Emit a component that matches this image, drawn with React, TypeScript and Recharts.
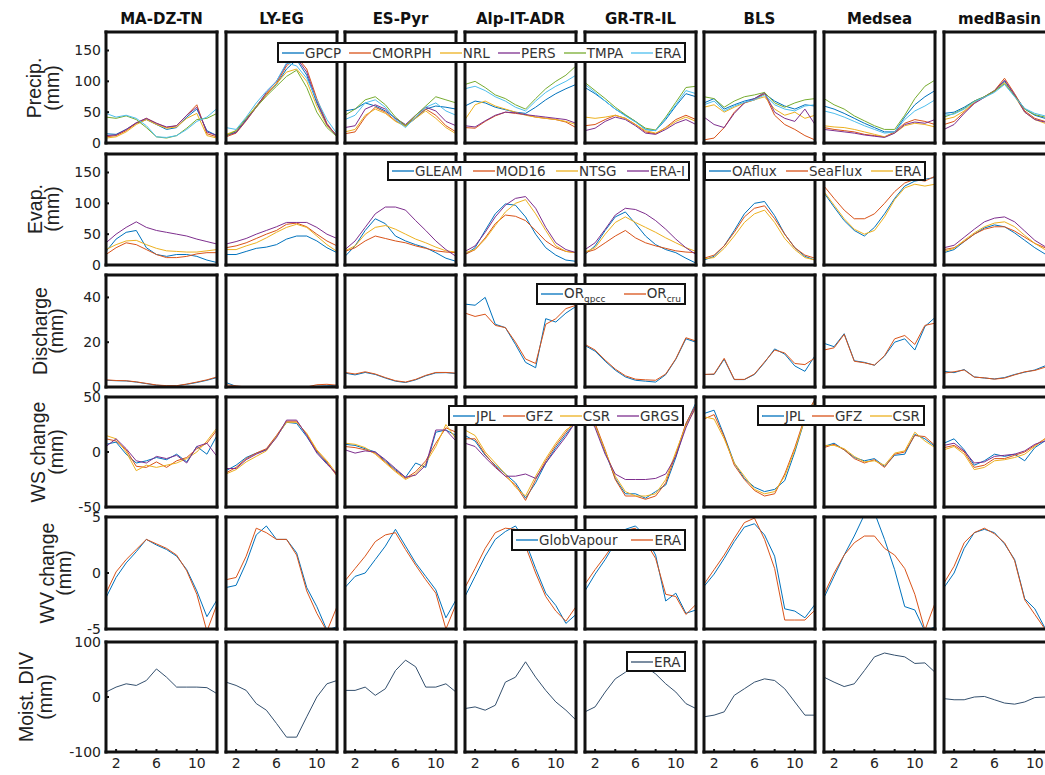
import React from 'react';
import { LineChart, Line, XAxis, YAxis } from 'recharts';

const months = [1, 2, 3, 4, 5, 6, 7, 8, 9, 10, 11, 12];
const regions = ['MA-DZ-TN', 'LY-EG', 'ES-Pyr', 'Alp-IT-ADR', 'GR-TR-IL', 'BLS', 'Medsea', 'medBasin'];
const xTicks = [2, 4, 6, 8, 10];
const xLabels = [2, 6, 10];

const precipNames = ['GPCP', 'CMORPH', 'NRL', 'PERS', 'TMPA', 'ERA'];
const evapLandNames = ['GLEAM', 'MOD16', 'NTSG', 'ERA-I'];
const evapSeaNames = ['OAflux', 'SeaFlux', 'ERA'];
const dischargeNames = ['OR', 'OR'];
const dischargeSubs = ['gpcc', 'cru'];
const wsLandNames = ['JPL', 'GFZ', 'CSR', 'GRGS'];
const wsSeaNames = ['JPL', 'GFZ', 'CSR'];
const wvNames = ['GlobVapour', 'ERA'];
const divNames = ['ERA'];

// region -> series -> month
const precip = [
  [[15, 14, 22, 32, 38, 30, 22, 25, 42, 55, 20, 12], [10, 12, 20, 32, 40, 32, 25, 28, 45, 62, 15, 10], [8, 10, 18, 30, 38, 30, 24, 26, 40, 48, 12, 8], [12, 13, 22, 33, 40, 32, 26, 28, 45, 58, 18, 12], [42, 40, 44, 38, 25, 10, 8, 12, 24, 38, 40, 48], [48, 42, 45, 40, 28, 10, 9, 12, 22, 35, 42, 56]],
  [[12, 18, 38, 60, 80, 95, 120, 135, 110, 65, 30, 12], [10, 16, 36, 58, 78, 97, 125, 140, 120, 72, 32, 10], [14, 20, 40, 60, 80, 96, 115, 120, 100, 60, 28, 12], [12, 17, 37, 58, 82, 100, 128, 138, 115, 68, 30, 11], [12, 20, 40, 58, 76, 92, 108, 118, 90, 50, 25, 10], [25, 22, 42, 65, 84, 100, 130, 125, 105, 70, 38, 15]],
  [[52, 55, 65, 60, 52, 40, 28, 40, 55, 60, 58, 55], [15, 18, 42, 58, 50, 36, 28, 42, 55, 45, 28, 18], [18, 22, 45, 55, 48, 35, 27, 40, 52, 40, 25, 15], [25, 28, 55, 62, 55, 40, 30, 45, 58, 52, 35, 28], [45, 55, 70, 75, 62, 42, 28, 45, 60, 75, 70, 65], [38, 45, 65, 70, 58, 38, 25, 42, 58, 65, 52, 45]],
  [[60, 68, 65, 58, 54, 50, 48, 58, 70, 80, 88, 95], [25, 24, 35, 44, 50, 48, 46, 42, 40, 38, 34, 25], [38, 62, 68, 60, 55, 50, 45, 42, 40, 38, 35, 30], [28, 26, 36, 45, 50, 49, 46, 44, 42, 40, 38, 32], [95, 100, 90, 78, 72, 62, 55, 72, 88, 100, 110, 125], [88, 92, 85, 75, 68, 58, 52, 68, 82, 92, 100, 110]],
  [[90, 80, 68, 55, 45, 35, 22, 20, 38, 60, 80, 75], [28, 30, 38, 45, 40, 30, 18, 15, 25, 38, 45, 38], [42, 40, 42, 45, 40, 30, 20, 16, 24, 35, 42, 35], [20, 24, 35, 42, 38, 28, 16, 14, 22, 32, 38, 30], [98, 85, 72, 58, 46, 35, 24, 21, 42, 66, 90, 92], [95, 82, 68, 55, 44, 34, 22, 20, 40, 62, 85, 80]],
  [[65, 72, 55, 62, 68, 72, 80, 68, 60, 55, 62, 60], [5, 8, 25, 50, 65, 70, 80, 45, 30, 22, 12, 5], [58, 62, 50, 58, 65, 70, 75, 55, 45, 50, 40, 45], [42, 30, 25, 48, 65, 72, 82, 50, 40, 35, 55, 30], [75, 72, 58, 68, 75, 78, 82, 65, 58, 65, 70, 72], [62, 68, 52, 60, 66, 70, 78, 62, 55, 52, 60, 62]],
  [[60, 55, 48, 40, 32, 25, 18, 18, 42, 62, 75, 85], [25, 22, 20, 18, 14, 12, 10, 18, 32, 38, 35, 30], [28, 26, 25, 22, 18, 14, 10, 16, 28, 32, 30, 26], [22, 20, 18, 16, 13, 11, 9, 16, 30, 34, 32, 38], [72, 62, 55, 44, 36, 28, 22, 22, 45, 72, 92, 102], [52, 48, 42, 35, 28, 22, 16, 18, 38, 52, 60, 70]],
  [[48, 50, 58, 68, 75, 85, 100, 78, 55, 45, 40, 38], [30, 35, 50, 65, 75, 85, 105, 80, 52, 40, 35, 32], [38, 42, 52, 66, 74, 84, 98, 76, 50, 38, 32, 30], [22, 30, 48, 64, 74, 84, 102, 78, 50, 38, 34, 30], [42, 48, 56, 68, 75, 84, 96, 76, 55, 46, 42, 40], [45, 47, 55, 67, 74, 82, 95, 75, 56, 48, 44, 42]],
];

const evap = [
  [[22, 42, 53, 56, 28, 17, 14, 17, 17, 14, 8, 4], [17, 28, 36, 33, 25, 17, 12, 12, 14, 18, 20, 20], [25, 33, 39, 40, 33, 27, 23, 22, 21, 21, 23, 25], [36, 50, 61, 70, 61, 56, 53, 50, 47, 42, 38, 34]],
  [[17, 17, 22, 27, 29, 33, 42, 47, 47, 39, 28, 20], [28, 31, 36, 43, 50, 56, 66, 68, 62, 50, 39, 31], [25, 25, 31, 36, 44, 53, 61, 66, 61, 47, 33, 22], [34, 38, 43, 50, 56, 62, 69, 69, 69, 61, 50, 43]],
  [[14, 31, 56, 75, 67, 47, 39, 33, 28, 20, 11, 6], [22, 28, 39, 47, 43, 39, 36, 31, 27, 23, 21, 20], [23, 31, 50, 61, 64, 58, 50, 42, 36, 29, 23, 21], [25, 39, 61, 83, 94, 94, 89, 72, 56, 39, 25, 14]],
  [[17, 28, 56, 83, 99, 97, 78, 50, 28, 16, 8, 6], [17, 25, 44, 67, 81, 79, 72, 56, 39, 28, 22, 20], [20, 25, 42, 64, 86, 100, 106, 83, 56, 31, 22, 20], [22, 31, 53, 78, 97, 108, 111, 92, 61, 36, 25, 20]],
  [[17, 31, 56, 78, 86, 67, 47, 33, 25, 20, 11, 3], [20, 25, 36, 47, 56, 44, 36, 31, 27, 23, 21, 20], [21, 28, 50, 69, 78, 69, 61, 53, 44, 36, 28, 22], [25, 36, 58, 81, 92, 90, 83, 72, 58, 42, 28, 17]],
  [[8, 14, 31, 56, 83, 100, 103, 80, 50, 28, 14, 8], [11, 16, 31, 53, 78, 92, 96, 75, 50, 28, 16, 11], [10, 12, 27, 47, 69, 83, 89, 69, 43, 25, 12, 8]],
  [[117, 94, 72, 56, 47, 61, 83, 108, 128, 136, 139, 142], [128, 108, 89, 75, 75, 83, 100, 119, 133, 139, 136, 144], [119, 97, 75, 58, 50, 56, 78, 106, 125, 131, 128, 131]],
  [[20, 25, 38, 50, 60, 65, 62, 52, 40, 28, 18, 12], [25, 28, 38, 50, 58, 62, 62, 55, 45, 35, 28, 22], [22, 27, 40, 52, 62, 68, 70, 62, 48, 35, 25, 20], [28, 32, 45, 58, 70, 76, 78, 70, 55, 40, 30, 24]],
];

const discharge = [
  [[3, 2.8, 2.7, 2.2, 1.5, 0.8, 0.5, 0.5, 1.2, 2, 3, 4.2], [3.2, 2.9, 2.8, 2.3, 1.6, 0.9, 0.6, 0.6, 1.3, 2.2, 3.2, 4.5]],
  [[2, 0.3, 0, 0, 0, 0, 0, 0, 0, 0.3, 0.5, 0.8], [1, 0.5, 0, 0, 0, 0, 0, 0, 0, 1, 1.2, 0.8]],
  [[6.2, 5.4, 6.5, 5.6, 4, 2.6, 2, 3.2, 5, 6.3, 6.4, 6], [6.5, 5.8, 6.8, 5.8, 4.2, 2.8, 2.2, 3.4, 5.2, 6.5, 6.5, 6.2]],
  [[37, 36.5, 40, 28, 26.5, 19, 11, 8.6, 30.5, 29, 33, 36], [33, 31.5, 32.5, 27.5, 26.5, 20, 12.5, 10.5, 28, 30.5, 35, 36.5]],
  [[18.5, 16, 11.5, 7.5, 4.5, 3, 2.6, 2.2, 5.5, 12.4, 21.5, 20], [19, 16.5, 12, 8, 5, 3.5, 3.2, 3, 5.8, 12.6, 22, 20.5]],
  [[5.6, 5.6, 12.4, 3.3, 3.3, 5.6, 10.9, 17, 14.7, 9.4, 7, 14], [5.6, 5.8, 12.8, 3.4, 3.4, 5.8, 11.2, 16.5, 15.2, 10.5, 10, 13]],
  [[19.5, 18, 23.8, 11.7, 11, 9.7, 13.8, 20, 21.5, 16.5, 27, 31], [16.5, 17.5, 23.5, 11.5, 10.8, 9.8, 14, 21.5, 23, 19, 27.5, 28.5]],
  [[7, 6.4, 7.8, 4.5, 4, 3.6, 4.2, 5.6, 6.6, 7.6, 9.4, 10], [6.2, 6.8, 7.6, 4.4, 4.1, 3.5, 4, 5.4, 6.8, 7.4, 8.8, 9.6]],
];

const wsChange = [
  [[7, 9, -2, -10, -8, -5, -7, -2, -9, 5, -2, 15], [12, 10, 2, -13, -14, -9, -14, -8, -5, 3, 8, 20], [15, 12, 0, -17, -12, -14, -12, -10, -6, 0, 10, 22], [5, 12, 3, -8, -10, -4, -6, -3, -10, 5, 8, -4]],
  [[-17, -12, -5, -1, 2, 14, 27, 26, 14, 0, -10, -21], [-19, -14, -6, -1, 3, 15, 28, 28, 16, 1, -9, -22], [-20, -16, -9, -4, 1, 14, 27, 27, 17, 2, -8, -20], [-15, -15, -7, -2, 2, 13, 29, 29, 15, -1, -11, -20]],
  [[7, 6, 3, 0, -8, -16, -23, -10, -14, 18, 20, 15], [5, 4, 2, -1, -9, -17, -24, -18, -8, 8, 22, 18], [8, 7, 4, -2, -10, -18, -25, -20, -10, 5, 25, 12], [2, -1, 1, 0, -7, -15, -23, -21, -12, 20, 20, 10]],
  [[15, 10, -3, -12, -20, -28, -42, -28, -10, 4, 16, 28], [12, 12, -2, -13, -22, -30, -44, -25, -8, 6, 18, 30], [20, 15, 0, -10, -20, -32, -40, -22, -6, 8, 20, 26], [8, 5, -5, -14, -22, -22, -20, -24, -10, 2, 14, 28]],
  [[42, 25, 0, -24, -38, -38, -42, -36, -30, -5, 25, 45], [45, 26, 2, -25, -40, -40, -43, -40, -28, -2, 26, 43], [40, 24, 1, -22, -36, -40, -40, -38, -25, 0, 24, 40], [38, 22, -2, -20, -25, -25, -25, -24, -20, -4, 22, 42]],
  [[35, 38, 15, -10, -24, -32, -36, -34, -26, 0, 30, 48], [30, 34, 14, -12, -25, -35, -40, -38, -20, 4, 32, 48], [32, 30, 12, -10, -22, -34, -38, -36, -22, 2, 30, 46]],
  [[5, 8, 2, -5, -8, -6, -13, -3, -2, 16, 12, 5], [4, 7, 2, -6, -10, -7, -14, -2, 0, 15, 14, 6], [6, 6, 3, -4, -9, -8, -12, -1, 1, 18, 10, 4]],
  [[8, 12, 2, -12, -8, -2, -4, -2, -8, 4, 10, 15], [4, 6, 0, -14, -12, -6, -6, -3, 0, 6, 12, 15], [2, 5, -2, -16, -14, -8, -7, -5, -2, 5, 12, 14], [6, 8, 1, -10, -9, -4, -3, -2, 1, 7, 10, 14]],
];

const wvChange = [
  [[-2.2, -0.4, 0.9, 1.9, 3, 2.5, 2.1, 1.5, 0.3, -1.6, -3.9, -2.4], [-1.8, 0.1, 1.2, 2.1, 3, 2.6, 2.2, 1.6, 0.2, -1.9, -5.2, -2.8]],
  [[-1.3, -1.1, 0.9, 3.4, 4.2, 3, 3, 1.8, -1.3, -3, -5.1, -4.8], [-0.6, -0.4, 1.5, 4, 3.6, 3, 3, 1.6, -1.6, -3.6, -5.2, -3]],
  [[-1.3, -0.3, 0, 1.2, 2.4, 3.9, 2.4, 0.9, -0.3, -1.5, -4, -2.4], [-0.7, 0.4, 1.5, 2.8, 3.4, 3.6, 2.1, 0.7, -0.6, -1.8, -5, -2.8]],
  [[-2.1, -0.3, 1.5, 3, 3.7, 4.2, 2.8, 0.4, -1.8, -2.9, -4.5, -3.7], [-1.3, 0.4, 2.2, 3.6, 4, 3.9, 2.4, 0, -2.1, -3.4, -4.3, -3]],
  [[-1.6, -0.1, 1.2, 2.7, 3.9, 4.2, 3.3, 1.6, -2.5, -1.8, -3.6, -3.3], [-1, 0.3, 1.5, 2.8, 3.8, 4, 2.8, 1.3, -1.9, -2.1, -3.7, -2.8]],
  [[-1.2, -0.1, 1.3, 2.8, 4.1, 4.4, 3.4, 1.5, -3.2, -3.4, -4, -2.8], [-1, 0.3, 1.6, 3.1, 4.5, 4.9, 3, 0.4, -4.2, -4.2, -4.2, -3.3]],
  [[-2.2, -0.3, 1.6, 3.3, 5.2, 5.4, 3, 0.3, -3, -3.3, -5.2, -4.8], [-1.9, 0, 1.6, 2.7, 3.3, 3.3, 2.2, 1.6, 0.4, -1.9, -5.1, -2.7]],
  [[-1.3, 0, 2.2, 3.6, 3.9, 3.6, 2.6, 1.2, -2.3, -3.2, -4.9, -5.2], [-0.9, 0.6, 2.7, 3.6, 4, 3.5, 2.7, 1.1, -2.4, -3.7, -5, -5.3]],
];

const moistDiv = [
  [[9, 18, 24, 21, 30, 51, 36, 18, 18, 18, 17, 6]],
  [[27, 21, 12, -12, -24, -48, -73, -73, -36, 0, 24, 30]],
  [[12, 12, 18, 3, 15, 48, 67, 55, 18, 18, 24, 9]],
  [[-21, -18, -24, -15, 27, 36, 64, 36, 12, -9, -24, -42]],
  [[-27, -18, 9, 33, 45, 60, 55, 42, 24, 9, -12, -21]],
  [[-36, -33, -27, 3, 15, 27, 33, 30, 15, -9, -33, -33]],
  [[36, 27, 19, 24, 48, 73, 80, 76, 73, 61, 62, 45]],
  [[-3, -5, -5, 0, 1, -5, -11, -13, -9, -1, 0, 1]],
];

const BLUE = '#0072BD';
const RED = '#D95319';
const YELLOW = '#EDB120';
const PURPLE = '#7E2F8E';
const GREEN = '#77AC30';
const CYAN = '#4DBEEE';
const DARK = '#34506e';

const precipColors = [BLUE, RED, YELLOW, PURPLE, GREEN, CYAN];
const landColors = [BLUE, RED, YELLOW, PURPLE];
const seaColors = [BLUE, RED, YELLOW];
const pairColors = [BLUE, RED];

const FONT = '"DejaVu Sans", sans-serif';
const LABEL_FONT = '"Liberation Sans", Arial, sans-serif';
const colX = [106, 226, 345, 465, 585, 704, 824, 944];
const W = 111;
const isSea = (c: number) => c === 5 || c === 6;

const rows = [
  { label: ['Precip.', '(mm)'], lx: [34, 52], cy: 88, top: 32, h: 111, domain: [0, 180], ticks: [0, 50, 100, 150], data: precip, colors: () => precipColors },
  { label: ['Evap.', '(mm)'], lx: [35, 52], cy: 209, top: 154, h: 111, domain: [0, 180], ticks: [0, 50, 100, 150], data: evap, colors: (c: number) => (isSea(c) ? seaColors : landColors) },
  { label: ['Discharge', '(mm)'], lx: [40, 56], cy: 331, top: 275, h: 112, domain: [0, 50], ticks: [0, 20, 40], data: discharge, colors: () => pairColors },
  { label: ['WS change', '(mm)'], lx: [38, 56], cy: 452, top: 397, h: 110, domain: [-50, 50], ticks: [-50, 0, 50], data: wsChange, colors: (c: number) => (isSea(c) ? seaColors : landColors) },
  { label: ['WV change', '(mm)'], lx: [47, 64], cy: 573, top: 517, h: 112, domain: [-5, 5], ticks: [-5, 0, 5], data: wvChange, colors: () => pairColors },
  { label: ['Moist. DIV', '(mm)'], lx: [26, 45], cy: 697, top: 642, h: 110, domain: [-100, 100], ticks: [-100, 0, 100], data: moistDiv, colors: () => [DARK] },
];

const axisLine = { stroke: '#111', strokeWidth: 3, strokeLinecap: 'square' as const };
const tickLine = { stroke: '#111', strokeWidth: 2 };
const tickText = { fontSize: 14, fill: '#222', fontFamily: FONT };

function Panel({ ri, c }: { ri: number; c: number }) {
  const row = rows[ri];
  const series = row.data[c];
  const colors = row.colors(c);
  const chartData = months.map((m, i) => {
    const o: Record<string, number> = { m };
    series.forEach((s, k) => {
      o['s' + k] = s[i];
    });
    return o;
  });
  const left = c === 0;
  const bottom = ri === rows.length - 1;
  const yl = left ? 44 : 1;
  const yr = 1;
  const xt = 1;
  const xb = bottom ? 24 : 1;
  const pad = 10;

  return (
    <div style={{ position: 'absolute', left: colX[c] - yl - pad, top: row.top - xt - pad }}>
      <LineChart
        width={W + yl + yr + 2 * pad}
        height={row.h + xt + xb + 2 * pad}
        data={chartData}
        margin={{ top: pad, right: pad, bottom: pad, left: pad }}
      >
        <XAxis
          xAxisId="b" dataKey="m" type="number" domain={[1, 12]} allowDataOverflow
          ticks={xTicks} interval={0} orientation="bottom" height={xb}
          tickSize={-3} tickMargin={9} axisLine={axisLine} tickLine={tickLine}
          tick={bottom ? tickText : false}
          tickFormatter={(v: number) => (xLabels.includes(v) ? String(v) : '')}
        />
        <XAxis
          xAxisId="t" dataKey="m" type="number" domain={[1, 12]} allowDataOverflow
          ticks={xTicks} interval={0} orientation="top" height={xt}
          tickSize={-3} axisLine={axisLine} tickLine={tickLine} tick={false}
        />
        <YAxis
          yAxisId="l" type="number" domain={row.domain} allowDataOverflow
          ticks={row.ticks} interval={0} orientation="left" width={yl}
          tickSize={-3} tickMargin={8} axisLine={axisLine} tickLine={tickLine}
          tick={left ? tickText : false}
        />
        <YAxis
          yAxisId="r" type="number" domain={row.domain} allowDataOverflow
          ticks={row.ticks} interval={0} orientation="right" width={yr}
          tickSize={-3} axisLine={axisLine} tickLine={tickLine} tick={false}
        />
        {/* invisible series so the top and right axes get their scales */}
        <Line
          xAxisId="t" yAxisId="r" type="linear" dataKey="s0" stroke="none" strokeOpacity={0}
          dot={false} activeDot={false} legendType="none" isAnimationActive={false}
        />
        {series.map((_, k) => (
          <Line
            key={k}
            xAxisId="b"
            yAxisId="l"
            type="linear"
            dataKey={'s' + k}
            stroke={colors[k]}
            strokeWidth={1}
            dot={false}
            isAnimationActive={false}
          />
        ))}
      </LineChart>
    </div>
  );
}

type LegendItem = { label: string; sub?: string; color: string };

function LegendBox({ left, top, width, height, items }: { left: number; top: number; width: number; height: number; items: LegendItem[] }) {
  return (
    <div
      style={{
        position: 'absolute', left, top, width, height, boxSizing: 'border-box',
        border: '2px solid #111', background: '#fff', display: 'flex', alignItems: 'center',
        justifyContent: 'space-between', padding: '0 3px', fontFamily: FONT, fontSize: 13.5, color: '#333',
      }}
    >
      {items.map((it, i) => (
        <div key={i} style={{ display: 'flex', alignItems: 'center', whiteSpace: 'nowrap' }}>
          <svg width={22} height={4} style={{ marginRight: 1, display: 'block' }}>
            <line x1={0} y1={2} x2={22} y2={2} stroke={it.color} strokeWidth={1.3} />
          </svg>
          <span>
            {it.label}
            {it.sub && <sub style={{ fontSize: 9 }}>{it.sub}</sub>}
          </span>
        </div>
      ))}
    </div>
  );
}

const mk = (names: string[], colors: string[], subs?: string[]) =>
  names.map((n, i) => ({ label: n, color: colors[i], sub: subs ? subs[i] : undefined }));

export default function App() {
  return (
    <div style={{ position: 'fixed', left: 0, top: 0, width: 1045, height: 775, overflow: 'hidden', background: '#fff' }}>
      {regions.map((r, c) => (
        <div
          key={r}
          style={{
            position: 'absolute', left: colX[c] - 20, top: 8, width: W + 40, textAlign: 'center',
            fontFamily: FONT, fontWeight: 'bold', fontSize: 15, lineHeight: '22px', color: '#111',
          }}
        >
          {r}
        </div>
      ))}
      {rows.map((row, ri) => (
        <React.Fragment key={ri}>
          {row.label.map((t, j) => (
            <div
              key={j}
              style={{
                position: 'absolute', left: row.lx[j] - 100, top: row.cy - 12, width: 200, height: 24,
                lineHeight: '24px', textAlign: 'center', transform: 'rotate(-90deg)',
                fontFamily: LABEL_FONT, fontSize: 19.5, color: '#222', whiteSpace: 'nowrap',
              }}
            >
              {t}
            </div>
          ))}
          {regions.map((r, c) => (
            <Panel key={r} ri={ri} c={c} />
          ))}
        </React.Fragment>
      ))}
      <LegendBox left={277} top={42} width={409} height={21} items={mk(precipNames, precipColors)} />
      <LegendBox left={387} top={161} width={303} height={20} items={mk(evapLandNames, landColors)} />
      <LegendBox left={704} top={161} width={222} height={20} items={mk(evapSeaNames, seaColors)} />
      <LegendBox left={536} top={283} width={150} height={22} items={mk(dischargeNames, pairColors, dischargeSubs)} />
      <LegendBox left={448} top={405} width={236} height={21} items={mk(wsLandNames, landColors)} />
      <LegendBox left={757} top={405} width={168} height={21} items={mk(wsSeaNames, seaColors)} />
      <LegendBox left={511} top={529} width={175} height={22} items={mk(wvNames, pairColors)} />
      <LegendBox left={626} top={651} width={60} height={21} items={mk(divNames, [DARK])} />
    </div>
  );
}
